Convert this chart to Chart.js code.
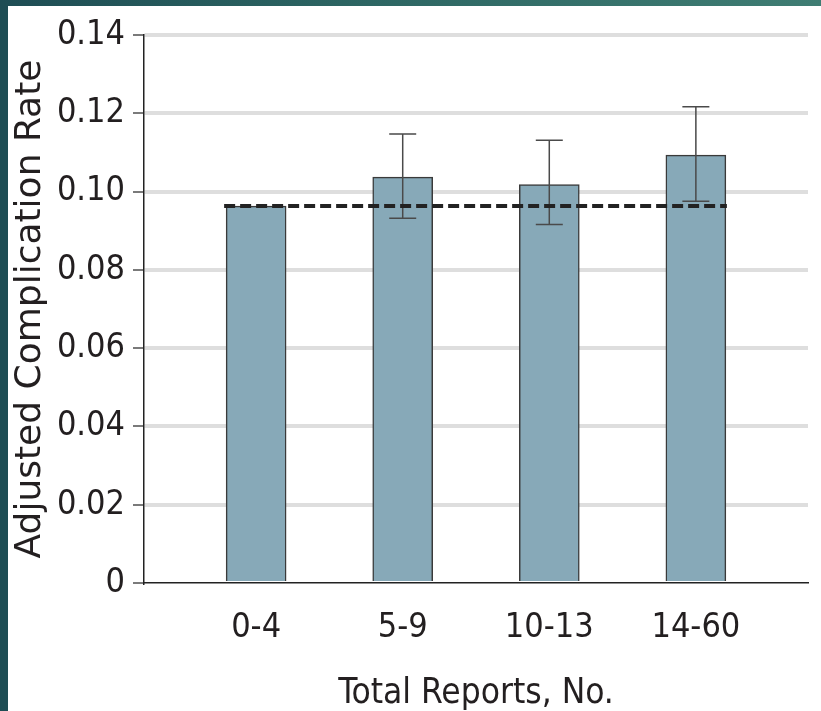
<!DOCTYPE html>
<html>
<head>
<meta charset="utf-8">
<script src="https://cdn.jsdelivr.net/npm/chart.js@4.4.1/dist/chart.umd.min.js"></script>
<style>
  body { margin: 0; width: 821px; height: 711px; overflow: hidden; position: relative; background: #1e4d54; }
  #topband { position: absolute; left: 0; top: 0; width: 821px; height: 6px;
    background: linear-gradient(90deg, #1e4d54 0%, #2d6663 45%, #3f7d73 100%); }
  #panel { position: absolute; left: 8px; top: 6px; width: 813px; height: 705px; background: #fff; }
</style>
</head>
<body>
<div id="topband"></div>
<div id="panel"><canvas id="rateChart" width="813" height="705"></canvas></div>
<script>
// 報告数カテゴリ別の調整済み合併症率
const categories = ['0-4', '5-9', '10-13', '14-60'];
const rates = [0.0963, 0.1037, 0.1018, 0.1093];
// 95% CI (0-4 は基準群なのでなし)
const ciLow = [null, 0.0932, 0.0916, 0.0975];
const ciHigh = [null, 0.1147, 0.1131, 0.1217];
// 全体の平均（破線）
const overallRate = 0.0963;

const textColor = '#231f20';
const narrowFont = "'DejaVu Sans Condensed', sans-serif";

// エラーバーと破線を描くプラグイン
const overlayPlugin = {
    id: 'overlay',
    afterDatasetsDraw(chart) {
        const ctx = chart.ctx;
        const y = chart.scales.y;
        const bars = chart.getDatasetMeta(0).data;

        ctx.save();
        ctx.strokeStyle = '#4a4a4a';
        ctx.lineWidth = 1.5;
        bars.forEach((bar, i) => {
            if (ciLow[i] == null) return;
            const top = y.getPixelForValue(ciHigh[i]);
            const bottom = y.getPixelForValue(ciLow[i]);
            ctx.beginPath();
            ctx.moveTo(bar.x, top);
            ctx.lineTo(bar.x, bottom);
            ctx.moveTo(bar.x - 13.5, top);
            ctx.lineTo(bar.x + 13.5, top);
            ctx.moveTo(bar.x - 13.5, bottom);
            ctx.lineTo(bar.x + 13.5, bottom);
            ctx.stroke();
        });

        const first = bars[0];
        const last = bars[bars.length - 1];
        const yRef = y.getPixelForValue(overallRate);
        ctx.strokeStyle = '#222';
        ctx.lineWidth = 4;
        ctx.setLineDash([11, 5]);
        ctx.beginPath();
        ctx.moveTo(first.x - first.width / 2 - 2, yRef);
        ctx.lineTo(last.x + last.width / 2 + 1, yRef);
        ctx.stroke();
        ctx.restore();
    }
};

const chartCtx = document.getElementById('rateChart').getContext('2d');
const rateChart = new Chart(chartCtx, {
    type: 'bar',
    data: {
        datasets: [{
            data: categories.map((c, i) => ({ x: i + 1, y: rates[i] })),
            backgroundColor: '#87a9b8',
            borderColor: '#3a3a3a',
            borderWidth: 1.5,
            barThickness: 60
        }]
    },
    options: {
        responsive: false,
        animation: false,
        layout: { padding: { top: 29, right: 13, left: 0, bottom: 0 } },
        plugins: {
            legend: { display: false },
            tooltip: { enabled: false }
        },
        scales: {
            x: {
                type: 'linear',
                offset: false,
                min: 0.235,
                max: 4.765,
                afterFit(scale) { scale.height = 128; },
                grid: { display: false, drawTicks: false },
                border: { display: true, color: '#222', width: 1.5 },
                ticks: {
                    stepSize: 1,
                    includeBounds: false,
                    autoSkip: false,
                    maxRotation: 0,
                    padding: 25,
                    color: textColor,
                    font: { family: narrowFont, size: 34 },
                    callback: (v) => Number.isInteger(v) && categories[v - 1] ? categories[v - 1] : ''
                },
                title: {
                    display: true,
                    text: 'Total Reports, No.',
                    color: textColor,
                    font: { family: narrowFont, size: 35, lineHeight: 1 },
                    padding: { top: 0, bottom: 0 }
                }
            },
            y: {
                min: 0,
                max: 0.14,
                afterFit(scale) { scale.width = 136; },
                grid: {
                    color: (c) => c.tick && c.tick.value === 0 ? 'rgba(0,0,0,0)' : '#dedede',
                    lineWidth: 4,
                    tickColor: '#222',
                    tickWidth: 1.2,
                    tickLength: 11
                },
                border: { display: true, color: '#222', width: 1.5 },
                ticks: {
                    stepSize: 0.02,
                    padding: 8,
                    color: textColor,
                    font: { family: narrowFont, size: 34 },
                    callback: (v) => v === 0 ? '0' : v.toFixed(2)
                },
                title: {
                    display: true,
                    text: 'Adjusted Complication Rate',
                    color: textColor,
                    font: { family: "'DejaVu Sans', sans-serif", size: 36, lineHeight: 1 },
                    padding: { top: 5, bottom: 0 }
                }
            }
        }
    },
    plugins: [overlayPlugin]
});
</script>
</body>
</html>
